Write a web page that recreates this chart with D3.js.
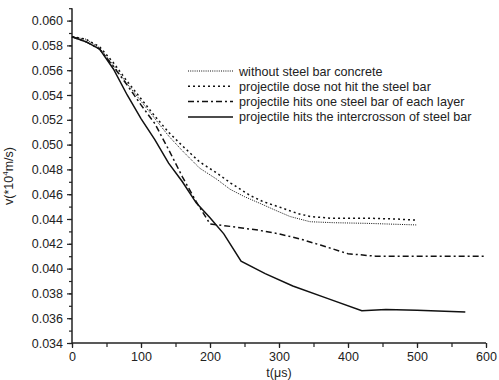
<!DOCTYPE html>
<html><head><meta charset="utf-8">
<script src="https://cdn.jsdelivr.net/npm/d3@7"></script>
<style>body{margin:0;background:#fff}svg{display:block}text{font-family:"Liberation Sans",Arial,sans-serif;fill:#222}</style>
</head><body><svg id="c" width="499" height="380"></svg>
<script>
const xTicks = [0,100,200,300,400,500,600];
const yTicks = [0.034,0.036,0.038,0.040,0.042,0.044,0.046,0.048,0.050,0.052,0.054,0.056,0.058,0.060];
const legendLabels = ["without steel bar concrete","projectile dose not hit the steel bar","projectile hits one steel bar of each layer","projectile hits the intercrosson of steel bar"];

const withoutSteel = [[0,0.0587],[20,0.0585],[40,0.0578],[60,0.0564],[80,0.0549],[100,0.0535],[120,0.0521],[140,0.0507],[160,0.0495],[185,0.0481],[210,0.0472],[229,0.0464],[250,0.0458],[272,0.04527],[295,0.0447],[316,0.0442],[345,0.04378],[380,0.0437],[427,0.04365],[500,0.04352]];
const notHit = [[0,0.0587],[20,0.0585],[40,0.0579],[60,0.0566],[80,0.0551],[100,0.0537],[120,0.0523],[140,0.0510],[160,0.0499],[185,0.0486],[210,0.0477],[230,0.0469],[258,0.0459],[277,0.0454],[306,0.04486],[326,0.04446],[345,0.0442],[375,0.04406],[430,0.04406],[470,0.0440],[500,0.0439]];
const oneBar = [[0,0.0587],[20,0.0583],[40,0.0577],[60,0.0563],[80,0.0548],[100,0.0532],[120,0.0517],[140,0.0496],[160,0.0474],[180,0.0454],[200,0.0436],[230,0.0434],[270,0.0431],[300,0.0428],[330,0.0424],[360,0.0419],[400,0.0412],[440,0.0410],[480,0.0410],[540,0.0410],[600,0.0410]];
const intercross = [[0,0.0587],[20,0.0583],[40,0.0577],[60,0.0561],[80,0.0540],[100,0.0521],[120,0.0504],[140,0.0485],[160,0.0470],[180,0.0453],[200,0.0441],[220,0.0428],[245,0.0406],[280,0.0396],[320,0.0386],[370,0.0376],[420,0.0366],[455,0.0367],[500,0.03665],[570,0.0365]];

const series = [withoutSteel, notHit, oneBar, intercross];
const styles = [
  {dash:"1,1.2", w:1},
  {dash:"2,3", w:1.5},
  {dash:"6,3,2,3", w:1.5},
  {dash:null, w:1.5}
];

const svg = d3.select("#c");
const x = d3.scaleLinear().domain([0,600]).range([72,486]);
const y = d3.scaleLinear().domain([0.034,0.061]).range([343,8.2]);

const gx = svg.append("g").attr("transform","translate(0,343)");
gx.call(d3.axisBottom(x).tickValues(d3.range(0,601,50)).tickSize(4).tickFormat(""))
  .call(g=>g.select(".domain").remove());
gx.append("g").call(d3.axisBottom(x).tickValues(xTicks).tickSize(5).tickFormat(d=>d))
  .call(g=>g.select(".domain").attr("stroke-width",1.5).attr("d","M72,0H486"))
  .call(g=>g.selectAll("text").attr("font-size",12.5).attr("y",9).attr("fill","#222"));
gx.selectAll("line").attr("stroke","#222").attr("stroke-width",1.2);

const gy = svg.append("g").attr("transform","translate(72,0)");
gy.call(d3.axisLeft(y).tickValues(d3.range(34,62).map(v=>v/1000)).tickSize(3).tickFormat(""))
  .call(g=>g.select(".domain").remove());
gy.append("g").call(d3.axisLeft(y).tickValues(yTicks).tickSize(5).tickFormat(d3.format(".3f")))
  .call(g=>g.select(".domain").attr("stroke-width",1.5).attr("d","M0,343V8.2"))
  .call(g=>g.selectAll("text").attr("font-size",12.5).attr("x",-9).attr("fill","#222"));
gy.selectAll("line").attr("stroke","#222").attr("stroke-width",1.2);
svg.selectAll(".domain").attr("stroke","#222");

const line = d3.line().x(d=>x(d[0])).y(d=>y(d[1]));
series.forEach((s,i)=>{
  svg.append("path").datum(s).attr("d",line).attr("fill","none")
    .attr("stroke","#111").attr("stroke-width",styles[i].w)
    .attr("stroke-dasharray",styles[i].dash);
});

const lg = svg.append("g");
legendLabels.forEach((lab,i)=>{
  const yy = 71 + i*15.3;
  lg.append("line").attr("x1",188).attr("x2",233).attr("y1",yy).attr("y2",yy)
    .attr("stroke","#111").attr("stroke-width",styles[i].w).attr("stroke-dasharray",styles[i].dash);
  lg.append("text").attr("x",239).attr("y",yy+4.5).attr("font-size",12.6).text(lab);
});

svg.append("text").attr("x",x(300)).attr("y",377).attr("text-anchor","middle").attr("font-size",12.5).text("t(μs)");
const yl = svg.append("text").attr("transform","translate(13,176) rotate(-90)").attr("text-anchor","middle").attr("font-size",12.5);
yl.append("tspan").text("v(*10");
yl.append("tspan").attr("font-size",8).attr("dy",-5).text("4");
yl.append("tspan").attr("dy",5).text("m/s)");
</script></body></html>
